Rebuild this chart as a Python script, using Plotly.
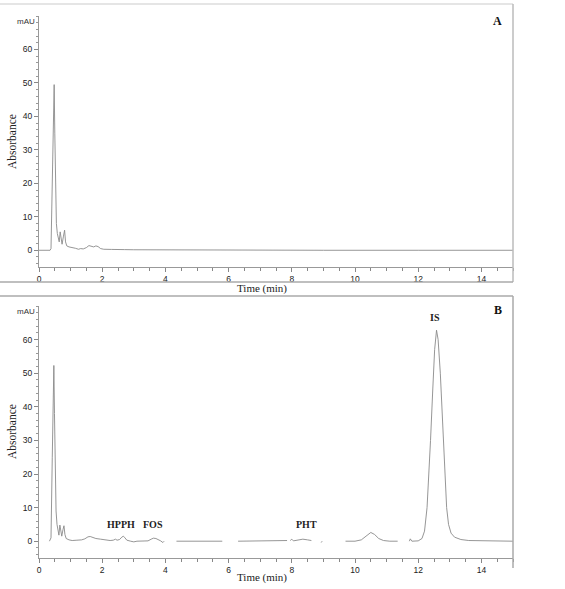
import plotly.graph_objects as go

# ---------------- data ----------------
time_a = [0, 0.35, 0.38, 0.42, 0.46, 0.48, 0.50, 0.52, 0.55, 0.58, 0.61, 0.64, 0.67, 0.70,
          0.73, 0.77, 0.81, 0.84, 0.88, 0.95, 1.05, 1.15, 1.25, 1.32, 1.40, 1.50, 1.58,
          1.66, 1.73, 1.80, 1.87, 1.95, 2.05, 2.3, 2.5, 2.7, 3.0, 4.0, 6.0, 9.0, 12.0, 15.0]
abs_a = [0, 0, 0.5, 20, 45, 49.5, 35, 18, 8, 5, 3.5, 2.5, 5.5, 3,
         1.8, 4, 6, 2.5, 1.3, 1.0, 0.9, 0.6, 0.3, 0.5, 0.4, 0.8, 1.4,
         1.2, 1.0, 1.3, 1.1, 0.5, 0.3, 0.25, 0.3, 0.2, 0.15, 0.1, 0.05, 0.0, 0.0, 0.0]

time_b = [0.33, 0.38, 0.42, 0.46, 0.47, 0.49, 0.51, 0.54, 0.57, 0.60, 0.63, 0.66, 0.69, 0.72,
          0.76, 0.79, 0.82, 0.86, 0.95, 1.05, 1.2, 1.35, 1.45, 1.55, 1.62, 1.70, 1.80, 1.95,
          2.1, 2.25, 2.35, 2.42, 2.47, 2.55, 2.62, 2.67, 2.72, 2.78, 2.9, 3.0, 3.1, 3.3, 3.45,
          3.55, 3.62, 3.70, 3.78, 3.85, 3.92, 3.96, None, 4.35, 5.0, 5.8, None, 6.3, 7.0, 7.5,
          7.85, None, 7.95, 8.0, 8.05, 8.2, 8.35, 8.5, 8.62, None, 8.93, 8.96, None, 9.7,
          10.0, 10.2, 10.35, 10.5, 10.62, 10.75, 10.9, 11.1, 11.35, None, 11.72, 11.75, 11.8,
          12.0, 12.12, 12.2, 12.28, 12.34, 12.39, 12.46, 12.52, 12.58, 12.63, 12.70, 12.76,
          12.80, 12.86, 12.90, 12.96, 13.04, 13.15, 13.35, 13.6, 14.0, 15.0]
abs_b = [0, 1, 25, 48, 52.3, 38, 20, 9, 5, 3, 1.8, 4.8, 2.5, 1.5,
         3.5, 4.6, 2, 0.8, 0.4, 0.2, 0.3, 0.4, 0.7, 1.3, 1.4, 1.1, 0.8, 0.6,
         0.4, 0.2, 0.3, 0.6, 0.3, 0.5, 1.2, 1.5, 1.0, 0.3, 0.0, -0.2, 0.0, 0.0, 0.1,
         0.6, 0.9, 0.8, 0.5, 0.1, -0.4, 0.0, None, 0.0, 0.0, 0.0, None, 0.0, 0.05, 0.1,
         0.2, None, 0.2, 0.6, 0.1, 0.3, 0.6, 0.4, 0.2, None, -0.4, 0.0, None, 0.0,
         0.0, 0.4, 1.6, 2.6, 2.0, 0.8, 0.2, 0.0, 0.0, None, 0.0, 0.7, 0.0,
         0.1, 0.8, 3, 10, 20, 30, 45, 57, 62.8, 60, 50, 38,
         28, 16, 10, 5, 2.4, 1.2, 0.5, 0.2, 0.1, 0.0]

peak_labels = ["HPPH", "FOS", "PHT", "IS"]
peak_x = [2.58, 3.62, 8.45, 12.54]
peak_y = [5.1, 5.1, 5.1, 66.6]

y_ticks = [0, 10, 20, 30, 40, 50, 60]
x_ticks = [0, 2, 4, 6, 8, 10, 12, 14]

# ---------------- layout geometry (pixels) ----------------
W, H = 565, 589
L, R, T, B = 39, 513, 16, 558


def px(xp):
    return (xp - L) / (R - L)


def py(yp):
    return (B - yp) / (B - T)


fig = go.Figure()
line_style = dict(color="#8a8a8a", width=0.9)
fig.add_trace(go.Scatter(x=time_a, y=abs_a, mode="lines", line=line_style,
                         xaxis="x", yaxis="y", showlegend=False, connectgaps=False))
fig.add_trace(go.Scatter(x=time_b, y=abs_b, mode="lines", line=line_style,
                         xaxis="x2", yaxis="y2", showlegend=False, connectgaps=False))

tickfont = dict(family="Arial, Liberation Sans, sans-serif", size=8.5, color="#222222")
xcommon = dict(range=[0, 15], tickvals=x_ticks, ticks="outside", ticklen=4, tickcolor="#888",
               showline=True, linecolor="#999", linewidth=1, showgrid=False, zeroline=False,
               tickfont=tickfont, ticklabelstandoff=0,
               minor=dict(dtick=0.5, ticks="outside", ticklen=3, tickcolor="#888"))
ycommon = dict(range=[-5, 70], tickvals=y_ticks, ticks="outside", ticklen=4, tickcolor="#888",
               showline=True, linecolor="#999", linewidth=1, showgrid=False, zeroline=False,
               tickfont=tickfont,
               minor=dict(dtick=2, ticks="outside", ticklen=2, tickcolor="#999"))

dom_a = [py(267), 1.0]
dom_b = [0.0, py(306)]

fig.update_layout(
    width=W, height=H,
    margin=dict(l=L, r=W - R, t=T, b=H - B),
    paper_bgcolor="white", plot_bgcolor="white",
    xaxis=dict(domain=[0, 1], anchor="y", **xcommon),
    yaxis=dict(domain=dom_a, anchor="x", **ycommon),
    xaxis2=dict(domain=[0, 1], anchor="y2", **xcommon),
    yaxis2=dict(domain=dom_b, anchor="x2", **ycommon),
)

# frame lines
frame = [
    (0, 4, 513, 4, "#dddddd"),
    (513, 4, 513, 282, "#bbbbbb"),
    (0, 282, 513, 282, "#aaaaaa"),
    (0, 296, 513, 296, "#aaaaaa"),
    (513, 296, 513, 568, "#aaaaaa"),
]
for x0, y0, x1, y1, c in frame:
    fig.add_shape(type="line", xref="paper", yref="paper",
                  x0=px(x0), y0=py(y0), x1=px(x1), y1=py(y1),
                  line=dict(color=c, width=1.5))

serif = "Times New Roman, Liberation Serif, serif"
anns = []
for ycen, ymau, ytime in [(142, 22, 288), (432, 312, 577)]:
    anns.append(dict(text="Absorbance", x=px(12), y=py(ycen), textangle=-90,
                     font=dict(family=serif, size=11.5, color="#222")))
    anns.append(dict(text="mAU", x=px(26), y=py(ymau),
                     font=dict(family="Arial, Liberation Sans, sans-serif", size=8, color="#333")))
    anns.append(dict(text="Time (min)", x=px(262), y=py(ytime),
                     font=dict(family=serif, size=11, color="#222")))
anns.append(dict(text="<b>A</b>", x=px(497), y=py(21), font=dict(family=serif, size=12, color="#111")))
anns.append(dict(text="<b>B</b>", x=px(498), y=py(310), font=dict(family=serif, size=12, color="#111")))
for a in anns:
    a.update(xref="paper", yref="paper", showarrow=False, xanchor="center", yanchor="middle")
    fig.add_annotation(**a)

for lab, xv, yv in zip(peak_labels, peak_x, peak_y):
    fig.add_annotation(text="<b>" + lab + "</b>", x=xv, y=yv, xref="x2", yref="y2",
                       showarrow=False, xanchor="center", yanchor="middle",
                       font=dict(family=serif, size=10, color="#222"))

fig.write_html("out.html")
